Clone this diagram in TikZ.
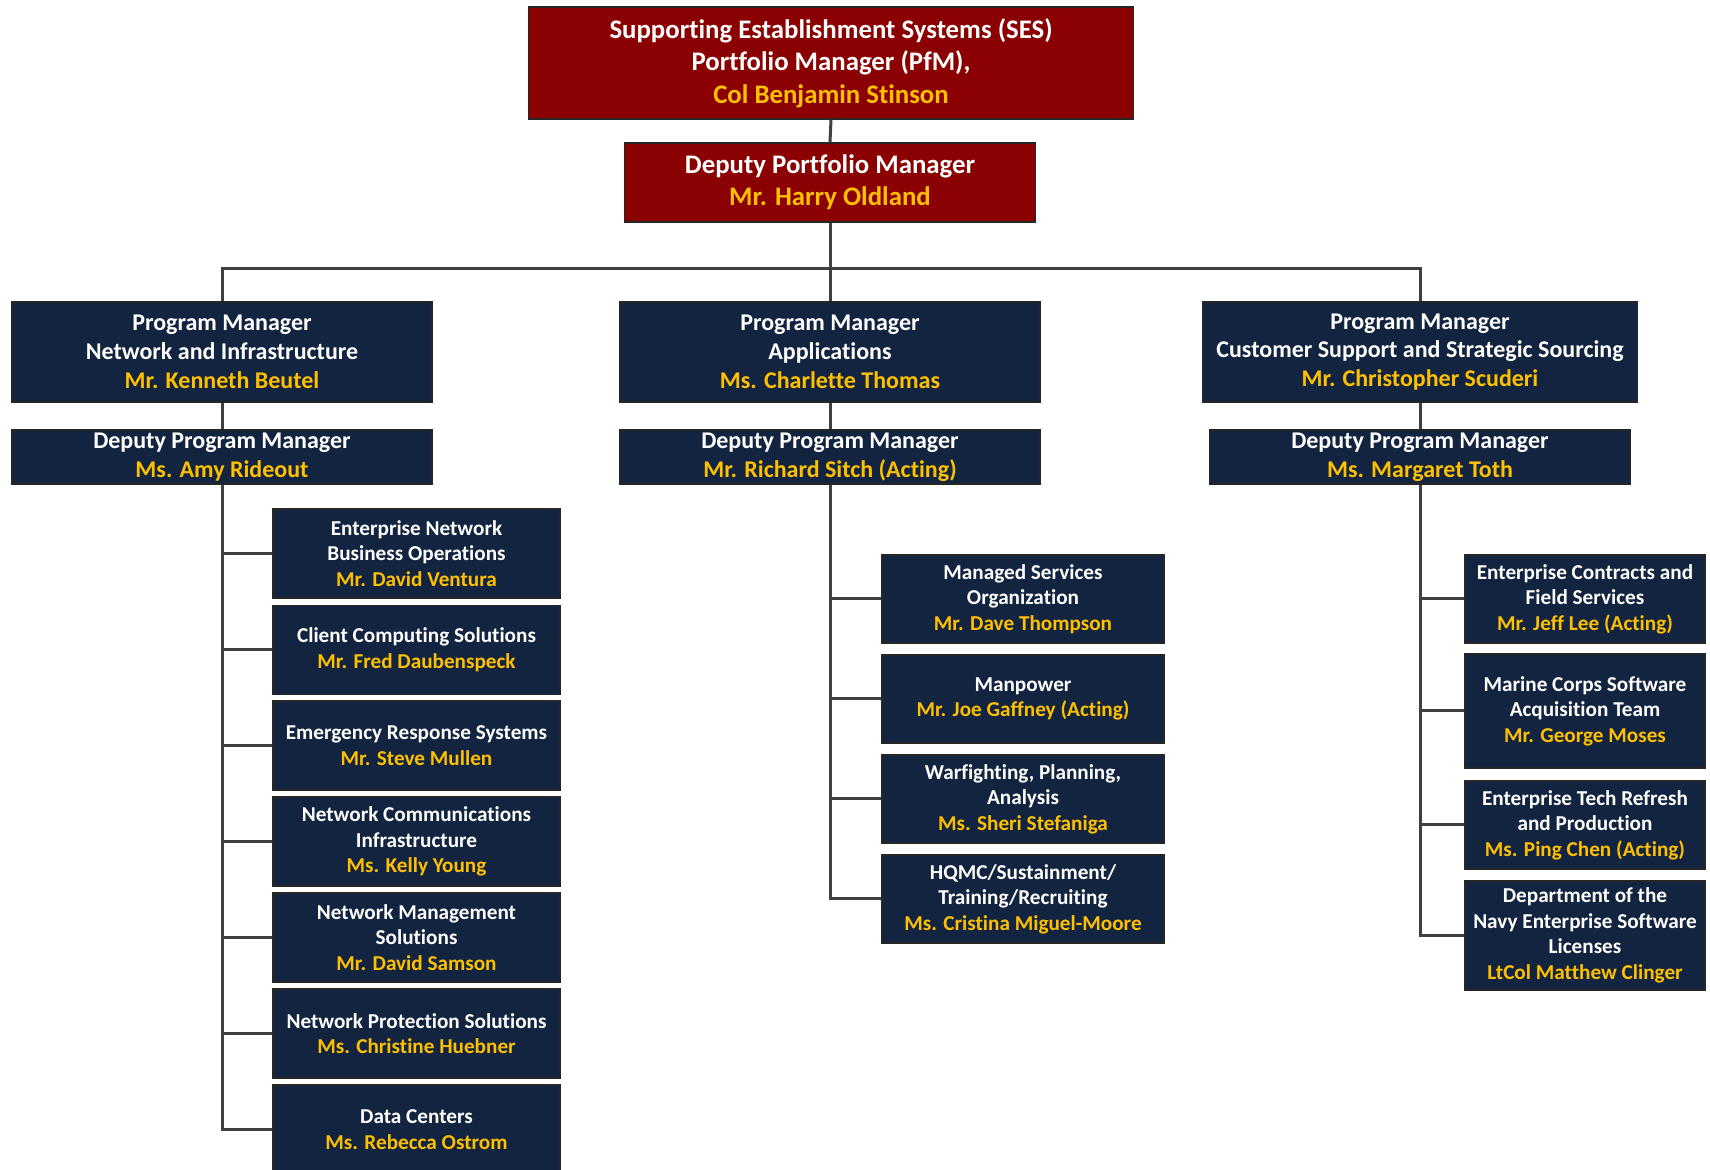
\documentclass[tikz,border=0pt]{standalone}
\usepackage{fontspec}
\setmainfont{Carlito}[Ligatures=NoCommon]
\definecolor{pfmred}{RGB}{139,0,0}
\definecolor{navy}{RGB}{19,36,64}
\definecolor{gold}{RGB}{255,192,0}
\definecolor{linkgray}{RGB}{64,64,64}
\newcommand{\who}[1]{\textcolor{gold}{#1}}
\tikzset{
% Box styles for the chart: portfolio level, program level, offices
pfm node/.style={rectangle,draw=black!85,line width=0.8pt,fill=pfmred,text=white,align=center,inner sep=0,font=\bfseries\fontsize{13.4}{16.2}\selectfont},
pm node/.style={rectangle,draw=black!85,line width=0.8pt,fill=navy,text=white,align=center,inner sep=0,font=\bfseries\fontsize{12}{14.4}\selectfont},
office node/.style={rectangle,draw=black!85,line width=0.8pt,fill=navy,text=white,align=center,inner sep=0,font=\bfseries\fontsize{10.6}{12.8}\selectfont},
link/.style={draw=linkgray,line width=1.5pt}
}
\begin{document}
\begin{tikzpicture}[x=0.5pt,y=-0.5pt]
\useasboundingbox (0,0) rectangle (1710,1170);
% portfolio
\node[pfm node, minimum width=302.5pt, minimum height=56pt] (pfm) at (831,63)
    {Supporting Establishment Systems (SES)\\Portfolio Manager (PfM),\\\who{Col Benjamin Stinson}};
\node[pfm node, minimum width=205.5pt, minimum height=39.5pt] (dpfm) at (830,182.5)
    {Deputy Portfolio Manager\\\who{Mr. Harry Oldland}};
% program managers
\node[pm node, minimum width=210pt, minimum height=50pt] (pm1) at (222,352)
    {Program Manager\\Network and Infrastructure\\\who{Mr. Kenneth Beutel}};
\node[pm node, minimum width=210pt, minimum height=50pt] (pm2) at (830,352)
    {Program Manager\\Applications\\\who{Ms. Charlette Thomas}};
\node[pm node, minimum width=217.5pt, minimum height=50pt] (pm3) at (1420,352)
    {Program Manager\\Customer Support and Strategic Sourcing\\\who{Mr. Christopher Scuderi}};
\node[pm node, minimum width=210pt, minimum height=27pt] (dpm1) at (222,457)
    {Deputy Program Manager\\\who{Ms. Amy Rideout}};
\node[pm node, minimum width=210pt, minimum height=27pt] (dpm2) at (830,457)
    {Deputy Program Manager\\\who{Mr. Richard Sitch (Acting)}};
\node[pm node, minimum width=210pt, minimum height=27pt] (dpm3) at (1420,457)
    {Deputy Program Manager\\\who{Ms. Margaret Toth}};
% network and infrastructure offices
\node[office node, minimum width=143.5pt, minimum height=44.5pt] (ni1) at (416.5,553.5)
    {Enterprise Network\\Business Operations\\\who{Mr. David Ventura}};
\node[office node, minimum width=143.5pt, minimum height=44.5pt] (ni2) at (416.5,650)
    {Client Computing Solutions\\\who{Mr. Fred Daubenspeck}};
\node[office node, minimum width=143.5pt, minimum height=44.5pt] (ni3) at (416.5,745.5)
    {Emergency Response Systems\\\who{Mr. Steve Mullen}};
\node[office node, minimum width=143.5pt, minimum height=44.5pt] (ni4) at (416.5,841.5)
    {Network Communications\\Infrastructure\\\who{Ms. Kelly Young}};
\node[office node, minimum width=143.5pt, minimum height=44.5pt] (ni5) at (416.5,937.5)
    {Network Management\\Solutions\\\who{Mr. David Samson}};
\node[office node, minimum width=143.5pt, minimum height=44.5pt] (ni6) at (416.5,1033.5)
    {Network Protection Solutions\\\who{Ms. Christine Huebner}};
\node[office node, minimum width=143.5pt, minimum height=44.5pt] (ni7) at (416.5,1129.5)
    {Data Centers\\\who{Ms. Rebecca Ostrom}};
% applications offices
\node[office node, minimum width=141pt, minimum height=44pt] (ap1) at (1023,599)
    {Managed Services\\Organization\\\who{Mr. Dave Thompson}};
\node[office node, minimum width=141pt, minimum height=44pt] (ap2) at (1023,699)
    {Manpower\\\who{Mr. Joe Gaffney (Acting)}};
\node[office node, minimum width=141pt, minimum height=44pt] (ap3) at (1023,799)
    {Warfighting, Planning,\\Analysis\\\who{Ms. Sheri Stefaniga}};
\node[office node, minimum width=141pt, minimum height=44pt] (ap4) at (1023,899)
    {HQMC/Sustainment/\\Training/Recruiting\\\who{Ms. Cristina Miguel-Moore}};
% customer support offices
\node[office node, minimum width=120pt, minimum height=44pt] (cs1) at (1585,599)
    {Enterprise Contracts and\\Field Services\\\who{Mr. Jeff Lee (Acting)}};
\node[office node, minimum width=120pt, minimum height=57pt] (cs2) at (1585,711)
    {Marine Corps Software\\Acquisition Team\\\who{Mr. George Moses}};
\node[office node, minimum width=120pt, minimum height=44pt] (cs3) at (1585,825)
    {Enterprise Tech Refresh\\and Production\\\who{Ms. Ping Chen (Acting)}};
\node[office node, minimum width=120pt, minimum height=54.5pt] (cs4) at (1585,935.5)
    {Department of the\\Navy Enterprise Software\\Licenses\\\who{LtCol Matthew Clinger}};
% connectors
\coordinate (bar) at (830,269);
\draw[link] (pfm.south) -- (dpfm.north);
\draw[link] (dpfm.south) -- (pm2.north);
\draw[link] (pm1.north) |- (bar) -| (pm3.north);
\foreach \i in {1,2,3}
    \draw[link] (pm\i.south) -- (dpm\i.north);
\foreach \c in {ni1,ni2,ni3,ni4,ni5,ni6,ni7}
    \draw[link] (dpm1.south) |- (\c.west);
\foreach \c in {ap1,ap2,ap3,ap4}
    \draw[link] (dpm2.south) |- (\c.west);
\foreach \c in {cs1,cs2,cs3,cs4}
    \draw[link] (dpm3.south) |- (\c.west);
\end{tikzpicture}
\end{document}
